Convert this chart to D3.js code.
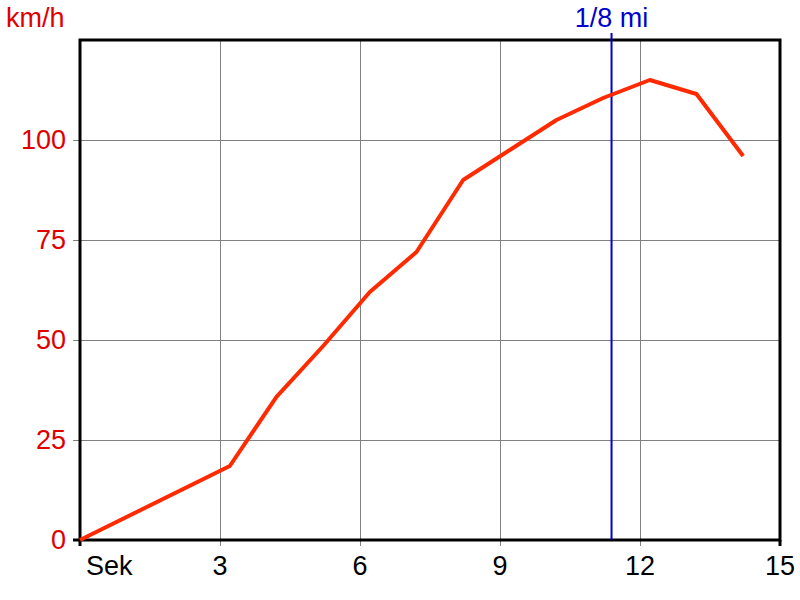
<!DOCTYPE html>
<html><head><meta charset="utf-8">
<script src="https://cdn.jsdelivr.net/npm/d3@7"></script>
<style>body{margin:0;background:#fff}svg{display:block}text{font-family:"Liberation Sans",Arial,sans-serif}</style>
</head><body>
<svg id="c" width="800" height="600"></svg>
<script>
const times  = [0, 3.21, 4.21, 5.21, 6.21, 7.21, 8.21, 9.21, 10.21, 11.21, 12.21, 13.21, 14.21];
const speeds = [0, 18.5, 35.8, 48.5, 62, 72, 90, 97.5, 105, 110.5, 115, 111.5, 96];
const xTicks = [0, 3, 6, 9, 12, 15];
const xTickLabels = ["Sek", "3", "6", "9", "12", "15"];
const yTicks = [0, 25, 50, 75, 100];
const marker = {t: 11.39, label: "1/8 mi"};
const yUnit = "km/h";

const svg = d3.select("#c");
const x = d3.scaleLinear().domain([0, 15]).range([80, 780]);
const y = d3.scaleLinear().domain([0, 125]).range([540, 40]);
const FS = 27;

// grid
svg.append("g").selectAll("line").data(xTicks.slice(1, -1)).join("line")
  .attr("x1", d => x(d)).attr("x2", d => x(d)).attr("y1", 40).attr("y2", 546)
  .attr("stroke", "#808080").attr("stroke-width", 1).attr("shape-rendering", "crispEdges");
svg.append("g").selectAll("line").data(yTicks.slice(1)).join("line")
  .attr("x1", 73).attr("x2", 780).attr("y1", d => y(d)).attr("y2", d => y(d))
  .attr("stroke", "#808080").attr("stroke-width", 1).attr("shape-rendering", "crispEdges");

// ticks at edges
svg.append("line").attr("x1", 73).attr("x2", 80).attr("y1", y(0)).attr("y2", y(0)).attr("stroke", "#000").attr("stroke-width", 3);
svg.append("line").attr("x1", x(0)).attr("x2", x(0)).attr("y1", 540).attr("y2", 546).attr("stroke", "#000").attr("stroke-width", 3);
svg.append("line").attr("x1", x(15)).attr("x2", x(15)).attr("y1", 540).attr("y2", 546).attr("stroke", "#000").attr("stroke-width", 3);

// frame
svg.append("rect").attr("x", 80).attr("y", 40).attr("width", 700).attr("height", 500)
  .attr("fill", "none").attr("stroke", "#000").attr("stroke-width", 3);

// marker
svg.append("line").attr("x1", x(marker.t)).attr("x2", x(marker.t)).attr("y1", 33).attr("y2", 540)
  .attr("stroke", "#0000cc").attr("stroke-width", 2);
svg.append("text").attr("x", x(marker.t)).attr("y", 27).attr("text-anchor", "middle")
  .attr("font-size", FS).attr("fill", "#0000cc").text(marker.label);

// line
svg.append("path").datum(times.map((t, i) => [t, speeds[i]]))
  .attr("d", d3.line().x(d => x(d[0])).y(d => y(d[1])))
  .attr("fill", "none").attr("stroke", "#ff2a00").attr("stroke-width", 4).attr("stroke-linejoin", "round");

// y labels
svg.append("g").selectAll("text").data(yTicks).join("text")
  .attr("x", 66).attr("y", d => y(d) + 9).attr("text-anchor", "end")
  .attr("font-size", FS).attr("fill", "#e00000").text(d => d);
svg.append("text").attr("x", 6).attr("y", 27).attr("font-size", FS).attr("fill", "#e00000").text(yUnit);

// x labels
svg.append("g").selectAll("text").data(xTicks).join("text")
  .attr("x", (d, i) => i === 0 ? x(d) + 6 : x(d)).attr("y", 575)
  .attr("text-anchor", (d, i) => i === 0 ? "start" : "middle")
  .attr("font-size", FS).attr("fill", "#000").text((d, i) => xTickLabels[i]);
</script>
</body></html>
